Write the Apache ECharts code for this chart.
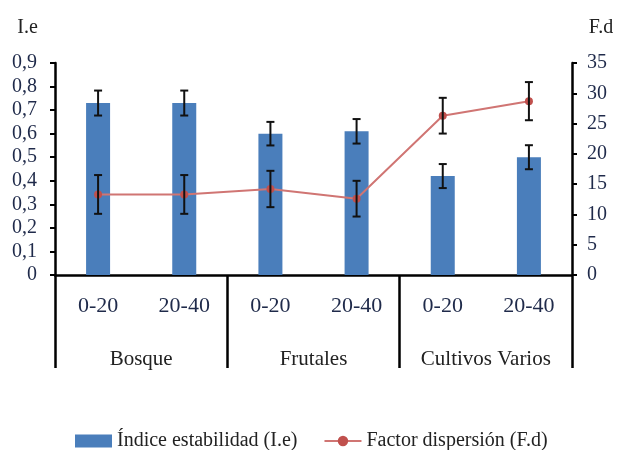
<!DOCTYPE html>
<html lang="es">
<head>
	<meta charset="utf-8">
	<title>Índice estabilidad y Factor dispersión</title>
	<script src="https://cdn.jsdelivr.net/npm/echarts@6/dist/echarts.min.js"></script>
	<style type="text/css">
		html, body { margin: 0; padding: 0; background: #fff; }
		#chart { width: 617px; height: 450px; }
	</style>
</head>
<body>
	<div id="chart"></div>
	<script type="text/javascript">
		// datos
		var depths = ['0-20', '20-40', '0-20', '20-40', '0-20', '20-40'];
		var groups = ['Bosque', 'Frutales', 'Cultivos Varios'];
		var ieValues = [0.73, 0.73, 0.60, 0.61, 0.42, 0.50];
		var ieErr = [0.053, 0.053, 0.05, 0.052, 0.051, 0.051];
		var fdValues = [13.3, 13.3, 14.2, 12.6, 26.3, 28.7];
		var fdErr = [3.2, 3.2, 3.0, 2.95, 2.95, 3.15];

		var serif = 'Liberation Serif';
		var tickColor = '#1f2a4a';

		function errorBars(values, errs) {
			return values.map(function (v, i) {
				return [i, v - errs[i], v + errs[i]];
			});
		}

		function renderError(params, api) {
			var lo = api.coord([api.value(0), api.value(1)]);
			var hi = api.coord([api.value(0), api.value(2)]);
			var half = 4;
			var style = { stroke: '#111', lineWidth: 2 };
			return {
				type: 'group',
				children: [
					{ type: 'line', shape: { x1: hi[0], y1: hi[1], x2: lo[0], y2: lo[1] }, style: style },
					{ type: 'line', shape: { x1: hi[0] - half, y1: hi[1], x2: hi[0] + half, y2: hi[1] }, style: style },
					{ type: 'line', shape: { x1: lo[0] - half, y1: lo[1], x2: lo[0] + half, y2: lo[1] }, style: style }
				]
			};
		}

		var chart = echarts.init(document.getElementById('chart'));
		var option = {
			animation: false,
			textStyle: { fontFamily: serif },
			grid: { left: 55, right: 45, top: 63, bottom: 175 },
			legend: {
				left: 70,
				top: 426,
				itemWidth: 37,
				itemHeight: 13,
				itemGap: 26,
				textStyle: { fontFamily: serif, fontSize: 20, color: '#222' },
				data: [
					{ name: 'Índice estabilidad (I.e)', icon: 'rect' },
					{ name: 'Factor dispersión (F.d)' }
				]
			},
			xAxis: [{
				type: 'category',
				data: depths,
				axisLine: { lineStyle: { color: '#000', width: 2.5 } },
				axisTick: { show: false },
				axisLabel: { fontFamily: serif, fontSize: 22, color: tickColor, margin: 20 }
			}, {
				type: 'category',
				data: groups,
				position: 'bottom',
				axisLine: { show: false },
				axisTick: { show: true, length: 93, lineStyle: { color: '#000', width: 2.5 } },
				axisLabel: { fontFamily: serif, fontSize: 21, color: '#222', margin: 74 }
			}],
			yAxis: [{
				type: 'value',
				name: 'I.e',
				nameLocation: 'end',
				nameGap: 25,
				nameTextStyle: { fontFamily: serif, fontSize: 20, color: '#222', align: 'center', padding: [0, 0, 0, -55] },
				min: 0,
				max: 0.9,
				interval: 0.1,
				splitLine: { show: false },
				axisLine: { show: true, lineStyle: { color: '#000', width: 2.5 } },
				axisTick: { show: true, length: 5, lineStyle: { color: '#000', width: 2 } },
				axisLabel: {
					fontFamily: serif, fontSize: 20, color: tickColor, margin: 18,
					formatter: function (v) { return v === 0 ? '0' : v.toFixed(1).replace('.', ','); }
				}
			}, {
				type: 'value',
				name: 'F.d',
				nameLocation: 'end',
				nameGap: 25,
				nameTextStyle: { fontFamily: serif, fontSize: 20, color: '#222', align: 'center', padding: [0, 0, 0, 58] },
				min: 0,
				max: 35,
				interval: 5,
				splitLine: { show: false },
				axisLine: { show: true, lineStyle: { color: '#000', width: 2.5 } },
				axisTick: { show: true, length: 5, lineStyle: { color: '#000', width: 2 } },
				axisLabel: { fontFamily: serif, fontSize: 20, color: tickColor, margin: 15 }
			}],
			series: [{
				name: 'Índice estabilidad (I.e)',
				type: 'bar',
				barWidth: 24,
				yAxisIndex: 0,
				itemStyle: { color: '#4a7ebb' },
				data: ieValues
			}, {
				type: 'custom',
				yAxisIndex: 0,
				renderItem: renderError,
				data: errorBars(ieValues, ieErr),
				z: 3
			}, {
				name: 'Factor dispersión (F.d)',
				type: 'line',
				yAxisIndex: 1,
				symbol: 'circle',
				symbolSize: 8,
				itemStyle: { color: '#c0504d' },
				lineStyle: { color: '#d07573', width: 2 },
				data: fdValues,
				z: 4
			}, {
				type: 'custom',
				yAxisIndex: 1,
				renderItem: renderError,
				data: errorBars(fdValues, fdErr),
				z: 5
			}]
		};
		chart.setOption(option);
	</script>
</body>
</html>
